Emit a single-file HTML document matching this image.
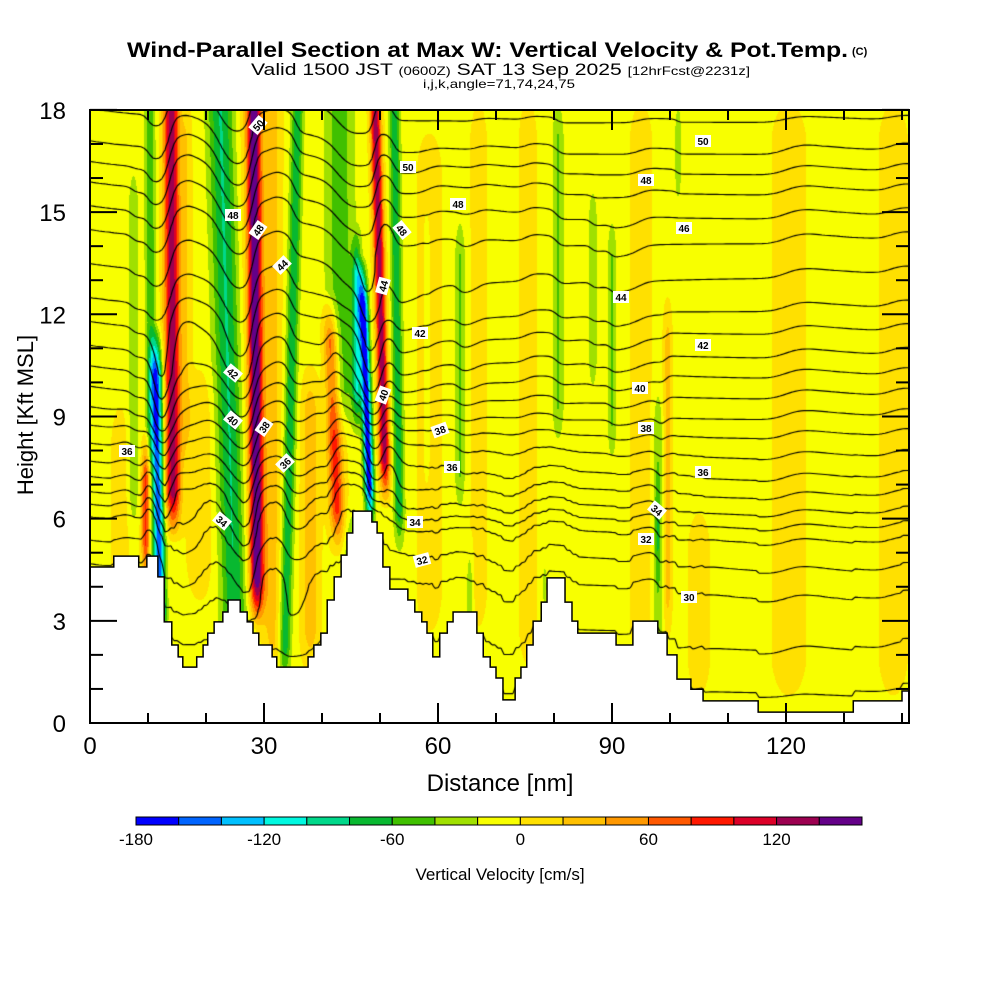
<!DOCTYPE html>
<html><head><meta charset="utf-8"><style>
html,body{margin:0;padding:0;background:#fff;}
#wrap{position:relative;width:1000px;height:1000px;overflow:hidden;font-family:"Liberation Sans",sans-serif;}
#plot{position:absolute;left:90px;top:110px;}
svg{position:absolute;left:0;top:0;}
</style></head><body>
<div id="wrap">
<canvas id="plot" width="819" height="613"></canvas>
<svg id="ov" width="1000" height="1000">
<g font-family="Liberation Sans, sans-serif">
<text x="127" y="57" font-size="21" font-weight="bold" textLength="721" lengthAdjust="spacingAndGlyphs">Wind-Parallel Section at Max W: Vertical Velocity &amp; Pot.Temp.</text>
<text x="852" y="55" font-size="11" font-weight="bold">(C)</text>
<text x="251" y="75" font-size="17" textLength="499" lengthAdjust="spacingAndGlyphs">Valid 1500 JST <tspan font-size="12">(0600Z)</tspan> SAT 13 Sep 2025 <tspan font-size="12">[12hrFcst@2231z]</tspan></text>
<text x="423" y="88" font-size="12" textLength="152" lengthAdjust="spacingAndGlyphs">i,j,k,angle=71,74,24,75</text>
</g>
<g id="terrain"></g>
<g id="clabels"></g>
<g id="axes"></g>
<rect x="90" y="110" width="819" height="613" fill="none" stroke="#000" stroke-width="2"/>
<text x="500" y="791" font-size="24" text-anchor="middle">Distance [nm]</text>
<text transform="translate(33,415) rotate(-90)" font-size="22" text-anchor="middle">Height [Kft MSL]</text>
<g id="cbar"></g>
<text x="500" y="880" font-size="17" text-anchor="middle">Vertical Velocity [cm/s]</text>
</svg>
</div>
<script>
// ---- data ----
const terrainStartNm=[0,4.1,8.4,9.8,11.7,12.8,14.1,15.2,16.0,18.4,19.5,20.3,21.4,22.9,23.8,25.9,27.1,28.1,29.1,31.4,32.2,37.6,38.6,39.8,40.9,42.1,43.3,44.3,45.3,48.6,49.5,50.5,51.7,54.8,56.0,57.2,58.1,59.1,60.3,61.6,62.6,66.7,67.8,69.0,70.0,71.2,73.3,74.3,75.3,76.4,77.8,78.8,81.9,83.1,84.1,90.7,93.6,97.9,99.5,101.2,103.6,105.7,115.2,131.6,140.0];
const terrainKft=[4.58,4.90,4.58,4.90,4.29,2.97,2.29,1.94,1.64,1.94,2.29,2.64,2.97,3.26,3.61,3.26,2.97,2.64,2.29,1.94,1.64,1.94,2.29,2.64,3.61,4.29,4.93,5.58,6.22,5.90,5.58,4.58,3.93,3.61,3.26,2.97,2.64,1.94,2.64,2.97,3.26,2.64,1.94,1.64,1.32,0.68,1.32,1.64,2.29,2.99,3.55,4.26,3.55,2.99,2.64,2.29,2.99,2.64,2.0,1.29,0.99,0.65,0.32,0.65,0.94];
// vertical velocity bands (nm, cm/s, kft)
const bandBaseNm=[14.5,9.6,12.3,10.8,25.5,29.0,29.0,33.3,43.5,46.0,44.0,49.5,52.0,53.7,7.5,58.1,63.8,65.5,78.4,80.7,86.7,90.0,97.9,97.9,101.4,99.6,5.2,19.0,31.5,38.0,58.5,67.0,75.5,95.0,105.0,120.5,138.5,45.0,16.5];
const bandTopNm=[14.0,9.6,10.8,10.3,22.5,28.2,28.2,35.8,43.0,46.0,40.0,46.0,49.2,52.5,7.5,58.1,63.8,65.5,78.4,80.7,86.7,90.0,97.9,97.9,101.4,99.6,5.2,19.0,31.5,38.0,58.5,67.0,75.5,95.0,105.0,120.5,138.5,45.0,16.5];
const bandPeak=[140,90,-150,-50,-75,140,35,-70,-45,-80,95,-175,140,-70,-30,-25,-35,-30,-30,-35,-30,-35,-35,-25,-30,35,18,25,30,40,20,15,18,15,15,16,16,-35,25];
const bandWidthNm=[1.3,0.7,1.0,0.9,2.2,1.1,2.2,1.0,2.5,0.8,1.3,0.8,0.9,0.9,0.9,0.6,0.9,0.6,0.5,1.0,0.8,0.8,0.8,0.5,0.6,0.7,1.5,2.0,1.5,1.5,2.0,1.5,1.5,2.0,2.0,3.0,2.5,1.5,1.0];
const bandBottomKft=[6.0,4.5,2.5,8.0,2.0,3.5,3.0,1.5,9.0,9.0,5.5,6.2,7.0,5.5,6.0,7.0,6.5,2.5,3.5,8.5,10.0,8.0,1.5,4.5,15.5,3.0,0,4.0,1.5,2.0,3.0,3.0,2.0,2.0,1.0,1.0,1.0,3.0,8.0];
const bandTopKft=[19,8.0,11.0,19,19,19,19,19,19,14.0,12.0,13.0,19,19,16.0,15.0,14.5,5.0,4.5,18.0,15.5,14.5,9.5,7.0,18.0,12.0,9.0,10.0,19,10.0,17.0,18.0,18.0,18.0,6.0,18.0,18.0,6.0,18.0];
const backgroundW=-6;
// potential temperature reference profile
const thetaHeightsKft=[0,1.5,3.7,5.4,6.3,7.4,8.7,9.9,11.1,12.5,14.5,15.9,17.1,19];
const thetaValues=[27,28.5,30,32,34,36,38,40,42,44,46,48,50,52];
const contourLevels=[27,28,29,30,31,32,33,34,35,36,37,38,39,40,41,42,43,44,45,46,47,48,49,50,51,52];
// colorbar
const wLevels=[-180,-160,-140,-120,-100,-80,-60,-40,-20,0,20,40,60,80,100,120,140,160];
const binColors=["#0000ff","#0064ff","#00c0ff","#00f8e0","#00d88a","#08b830","#40c000","#a0e000","#f8ff00","#ffe000","#ffc000","#ff9800","#ff5800","#ff1800","#dc0028","#9c0050","#640088"];
const cbarTicks=[-180,-120,-60,0,60,120];
const xTicks=[0,30,60,90,120];
const yTicks=[0,3,6,9,12,15,18];
// ---- scales ----
const X0=90,Y0=723,PXNM=5.8,PXK=34.06,XMAX=141.2,ZMAX=18;
function xPx(nm){return X0+nm*PXNM;}
function yPx(k){return Y0-k*PXK;}
function clamp(v,a,b){return v<a?a:v>b?b:v;}
function wAt(x,z){
  let v=backgroundW;
  for(let i=0;i<bandPeak.length;i++){
    const lo=bandBottomKft[i],hi=bandTopKft[i];
    if(z<lo-0.75||z>hi+0.75)continue;
    const xc=bandBaseNm[i]+(bandTopNm[i]-bandBaseNm[i])*z/18;
    const d=(x-xc)/bandWidthNm[i];
    if(d>3||d<-3)continue;
    const f=clamp((z-lo)/1.5+0.5,0,1)*clamp((hi-z)/1.5+0.5,0,1);
    v+=bandPeak[i]*Math.exp(-d*d)*f;
  }
  return v;
}
function terrainAt(x){let h=terrainKft[0];for(let i=0;i<terrainStartNm.length;i++){if(x>=terrainStartNm[i])h=terrainKft[i];}return h;}
function theta0(z){
  const H=thetaHeightsKft,T=thetaValues;
  if(z<=H[0])return T[0]+(z-H[0])*(T[1]-T[0])/(H[1]-H[0]);
  for(let i=1;i<H.length;i++){if(z<=H[i])return T[i-1]+(z-H[i-1])*(T[i]-T[i-1])/(H[i]-H[i-1]);}
  const n=H.length-1;return T[n]+(z-H[n])*(T[n]-T[n-1])/(H[n]-H[n-1]);
}
function binIndex(w){return clamp(Math.floor((w-wLevels[0])/20),0,binColors.length-1);}
function hex(c){return [parseInt(c.substr(1,2),16),parseInt(c.substr(3,2),16),parseInt(c.substr(5,2),16)];}
// ---- fill ----
const cv=document.getElementById('plot'),ctx=cv.getContext('2d');
const CW=cv.width,CH=cv.height;
const img=ctx.createImageData(CW,CH);const rgb=binColors.map(hex);
for(let py=0;py<CH;py++){const z=(CH-py-0.5)/PXK;
  for(let px=0;px<CW;px++){const x=(px+0.5)/PXNM;const c=rgb[binIndex(wAt(x,z))];const o=(py*CW+px)*4;img.data[o]=c[0];img.data[o+1]=c[1];img.data[o+2]=c[2];img.data[o+3]=255;}}
ctx.putImageData(img,0,0);
// ---- isentropes ----
const GX=3,GY=2,NX=Math.ceil(CW/GX)+1,NY=Math.ceil(CH/GY)+1;
const th=[];const kDisp=0.0042,lam=0.06,dxn=GX/PXNM;
for(let j=0;j<NY;j++){const z=(CH-j*GY)/PXK;let eta=0;const row=[];
  for(let i=0;i<NX;i++){const x=i*GX/PXNM;eta=eta*(1-lam*dxn)+kDisp*wAt(x,z)*dxn;
    const et=eta+0.45*terrainAt(x)*Math.max(0,1-z/9);
    row.push(theta0(z-et));}
  th.push(row);}
ctx.strokeStyle="#000";ctx.lineWidth=1.15;ctx.beginPath();
for(const L of contourLevels){
  for(let j=0;j<NY-1;j++)for(let i=0;i<NX-1;i++){
    const a=th[j][i],b=th[j][i+1],c=th[j+1][i+1],d=th[j+1][i];
    const pts=[];const X=i*GX,Y=j*GY;
    if((a<L)!==(b<L))pts.push([X+GX*(L-a)/(b-a),Y]);
    if((b<L)!==(c<L))pts.push([X+GX,Y+GY*(L-b)/(c-b)]);
    if((c<L)!==(d<L))pts.push([X+GX*(L-d)/(c-d),Y+GY]);
    if((d<L)!==(a<L))pts.push([X,Y+GY*(L-a)/(d-a)]);
    if(pts.length>=2){ctx.moveTo(pts[0][0],pts[0][1]);ctx.lineTo(pts[1][0],pts[1][1]);}
    if(pts.length===4){ctx.moveTo(pts[2][0],pts[2][1]);ctx.lineTo(pts[3][0],pts[3][1]);}
  }}
ctx.stroke();
// ---- svg overlay ----
const NS="http://www.w3.org/2000/svg";
function mk(tag,parent,attrs){const e=document.createElementNS(NS,tag);for(const k in attrs)e.setAttribute(k,attrs[k]);parent.appendChild(e);return e;}
// terrain
let d="M"+xPx(0)+","+yPx(0);
for(let i=0;i<terrainStartNm.length;i++){const xe=i+1<terrainStartNm.length?terrainStartNm[i+1]:XMAX;
  d+=" L"+xPx(terrainStartNm[i])+","+yPx(terrainKft[i])+" L"+xPx(xe)+","+yPx(terrainKft[i]);}
d+=" L"+xPx(XMAX)+","+yPx(0)+" Z";
const tp=mk('path',document.getElementById('terrain'),{d:d,fill:"#fff",stroke:"#000","stroke-width":"1.5"});


// contour labels
const labelText=["50","50","48","48","44","42","40","38","36","34","36","48","44","40","42","48","38","36","34","32","50","48","46","44","42","40","38","36","34","32","30"];
const labelX=[258,408,233,258,282,233,233,264,285,222,127,402,383,383,420,458,440,452,415,422,703,646,684,621,703,640,646,703,657,646,689];
const labelY=[125,167,215,230,265,373,420,427,463,521,451,230,286,395,333,204,430,467,522,560,141,180,228,297,345,388,428,472,510,539,597];
const labelRot=[-50,0,0,-55,-45,40,40,-55,-45,40,0,50,-75,-70,0,0,-20,0,0,-15,0,0,0,0,0,0,0,0,40,0,0];
const cl=document.getElementById('clabels');
for(let i=0;i<labelText.length;i++){
  const g=mk('g',cl,{transform:"translate("+labelX[i]+","+labelY[i]+") rotate("+labelRot[i]+")"});
  
  
  mk('rect',g,{x:-8,y:-6,width:16,height:12,fill:"#fff"});
  const t=mk('text',g,{x:0,y:4,"font-size":"10","font-weight":"bold","text-anchor":"middle"});t.textContent=labelText[i];
}
// axes
const ax=document.getElementById('axes');
for(let v=0;v<=18;v++){const y=yPx(v),L=(v%3===0)?27:13;
  const t1=mk('line',ax,{x1:90,y1:y,x2:90+L,y2:y,stroke:"#000","stroke-width":"2"});
  
  const t2=mk('line',ax,{x1:909,y1:y,x2:909-L,y2:y,stroke:"#000","stroke-width":"2"});
  }
for(let v=0;v<=140;v+=10){const x=xPx(v),L=(v%30===0)?20:10;
  const t1=mk('line',ax,{x1:x,y1:723,x2:x,y2:723-L,stroke:"#000","stroke-width":"2"});
  
  const t2=mk('line',ax,{x1:x,y1:110,x2:x,y2:110+L,stroke:"#000","stroke-width":"2"});
  }
for(const v of yTicks){const t=mk('text',ax,{x:66,y:yPx(v)+9,"font-size":"24","text-anchor":"end"});
  t.textContent=v;}
for(const v of xTicks){const t=mk('text',ax,{x:xPx(v),y:754,"font-size":"24","text-anchor":"middle"});
  t.textContent=v;}
// colorbar
const cb=document.getElementById('cbar');const CBX=136,CBW=726/binColors.length;
for(let i=0;i<binColors.length;i++){const r=mk('rect',cb,{x:CBX+i*CBW,y:817,width:CBW,height:8,fill:binColors[i],stroke:"#000","stroke-width":"1"});
  }
for(const v of cbarTicks){const idx=(v-wLevels[0])/20;const t=mk('text',cb,{x:CBX+idx*CBW,y:845,"font-size":"17","text-anchor":"middle"});
  t.textContent=v;}
</script>
</body></html>
